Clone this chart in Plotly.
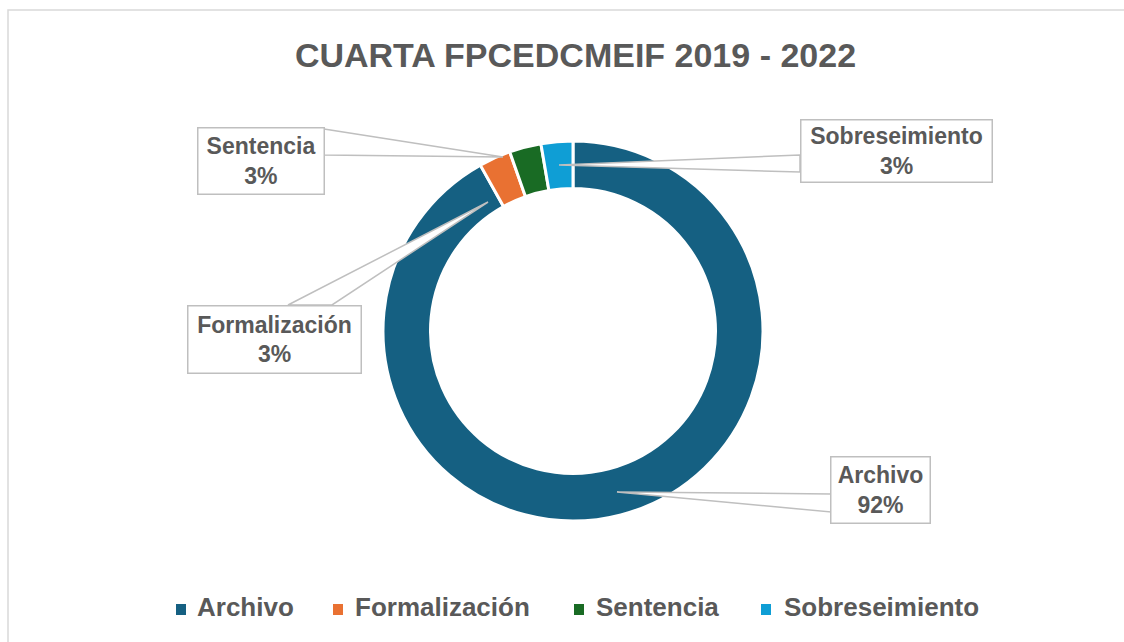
import plotly.graph_objects as go

categories = ["Archivo", "Formalización", "Sentencia", "Sobreseimiento"]
values = [34, 1, 1, 1]
colors = ["#156082", "#E97132", "#196B24", "#0F9ED5"]
title_text = "CUARTA FPCEDCMEIF 2019 - 2022"

W, H = 1124, 642
FONT = "Liberation Sans"
GRAY = "#595959"

def px(x):
    return x / W

def py(y):
    return 1 - y / H

fig = go.Figure(go.Pie(
    labels=categories,
    values=values,
    marker=dict(colors=colors, line=dict(color="white", width=3)),
    hole=0.75,
    sort=False,
    direction="clockwise",
    rotation=0,
    textinfo="none",
    showlegend=False,
    domain=dict(x=[px(383), px(763)], y=[py(521), py(141)]),
))

# label boxes (center x, center y, width, height) and callout wedge geometry
label_layout = {
    "Archivo": dict(box=(881, 489.5, 100, 67), wedge=[(831, 494), (617, 492), (831, 512)]),
    "Formalización": dict(box=(274, 339, 174, 68), wedge=[(288, 305), (488, 202), (332, 305)]),
    "Sentencia": dict(box=(260.5, 161.5, 127, 67), wedge=[(324, 129), (503, 157), (324, 155)]),
    "Sobreseimiento": dict(box=(896, 150.5, 192, 63), wedge=[(800, 155), (559, 165), (800, 172)]),
}
# legend entry positions (marker left x, text left x)
legend_pos = {"Archivo": (176, 195), "Formalización": (333, 353),
              "Sentencia": (574, 594), "Sobreseimiento": (761, 782)}
LEG_Y = 607

total = sum(values)
shapes = [
    dict(type="rect", xref="paper", yref="paper", x0=px(8), x1=px(1130), y0=py(10), y1=py(650),
         line=dict(color="#d9d9d9", width=1.5), fillcolor="rgba(0,0,0,0)", layer="below"),
]
annotations = []
for cat, val, col in zip(categories, values, colors):
    lay = label_layout[cat]
    pts = lay["wedge"]
    path = "M {} {} L {} {} L {} {} Z".format(
        px(pts[0][0]), py(pts[0][1]), px(pts[1][0]), py(pts[1][1]), px(pts[2][0]), py(pts[2][1]))
    shapes.append(dict(type="path", xref="paper", yref="paper", path=path,
                       fillcolor="white", line=dict(color="#bfbfbf", width=1.5), layer="above"))
    cx, cy, bw, bh = lay["box"]
    pct = round(val / total * 100)
    annotations.append(dict(
        x=px(cx), y=py(cy), xref="paper", yref="paper", xanchor="center", yanchor="middle",
        text="<b>{}</b><br><b>{}%</b>".format(cat, pct), showarrow=False,
        width=bw - 2, height=bh - 2, bgcolor="white", bordercolor="#bfbfbf", borderwidth=1.5,
        borderpad=0, font=dict(family=FONT, size=23, color=GRAY), align="center",
    ))
    # legend entry
    mx, tx = legend_pos[cat]
    shapes.append(dict(type="rect", xref="paper", yref="paper",
                       x0=px(mx), x1=px(mx + 10), y0=py(LEG_Y + 8), y1=py(LEG_Y - 3),
                       fillcolor=col, line=dict(width=0)))
    annotations.append(dict(
        x=px(tx), y=py(LEG_Y), xref="paper", yref="paper", xanchor="left", yanchor="middle",
        text="<b>{}</b>".format(cat), showarrow=False,
        font=dict(family=FONT, size=26, color=GRAY),
    ))

fig.update_layout(
    width=W, height=H,
    margin=dict(l=0, r=0, t=0, b=0),
    paper_bgcolor="white",
    title=dict(text="<b>" + title_text + "</b>", x=0.512, xanchor="center", y=py(55), yanchor="middle",
               font=dict(family=FONT, size=34, color=GRAY)),
    showlegend=False,
    shapes=shapes,
    annotations=annotations,
)

fig.write_html("out.html", config={"displayModeBar": False},
               post_script="document.body.style.margin='0';document.body.style.overflow='hidden';")
